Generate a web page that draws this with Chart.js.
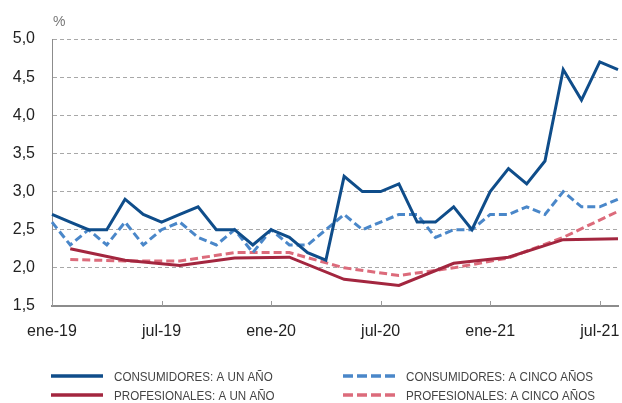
<!DOCTYPE html>
<html>
<head>
<meta charset="utf-8">
<script src="https://cdn.jsdelivr.net/npm/chart.js@4.4.1/dist/chart.umd.min.js"></script>
<style>
  html, body { margin: 0; padding: 0; background: #fff; }
  #wrap { width: 622px; height: 403px; }
</style>
</head>
<body>
<div id="wrap"><canvas id="c"></canvas></div>
<script>
/** DATA **/
const months = ['ene','feb','mar','abr','may','jun','jul','ago','sep','oct','nov','dic'];
const labels = [];
for (let y = 19; y <= 21; y++) {
  for (let m = 0; m < 12; m++) {
    if (y === 21 && m > 7) break;
    labels.push(months[m] + '-' + y);
  }
}

// monthly surveys
const consUnAno = [2.7,2.6,2.5,2.5,2.9,2.7,2.6,2.7,2.8,2.5,2.5,2.3,
                   2.5,2.4,2.2,2.1,3.2,3.0,3.0,3.1,2.6,2.6,2.8,2.5,
                   3.0,3.3,3.1,3.4,4.6,4.2,4.7,4.6];
const consCincoAnos = [2.6,2.3,2.5,2.3,2.6,2.3,2.5,2.6,2.4,2.3,2.5,2.2,
                       2.5,2.3,2.3,2.5,2.7,2.5,2.6,2.7,2.7,2.4,2.5,2.5,
                       2.7,2.7,2.8,2.7,3.0,2.8,2.8,2.9];
// quarterly surveys (feb, may, ago, nov)
const profUnAno = [null,2.25,null,null,2.1,null,null,2.03,null,null,2.13,null,
                   null,2.14,null,null,1.85,null,null,1.77,null,null,2.06,null,
                   null,2.14,null,null,2.37,null,null,2.38];
const profCincoAnos = [null,2.11,null,null,2.09,null,null,2.09,null,null,2.2,null,
                       null,2.2,null,null,2.0,null,null,1.9,null,null,2.0,null,
                       null,2.13,null,null,2.4,null,null,2.74];

const seriesNames = ['CONSUMIDORES: A UN AÑO', 'CONSUMIDORES: A CINCO AÑOS',
                     'PROFESIONALES: A UN AÑO', 'PROFESIONALES: A CINCO AÑOS'];

/** STYLES **/
const colors = ['#0f4d8a', '#4a87c9', '#a3263f', '#dc6b7b'];
const dashed = [false, true, false, true];

const fmt = v => v.toFixed(1).replace('.', ',');

/** EXTRA DRAWING: x ticks, unit, legend **/
const extras = {
  id: 'extras',
  afterDraw(chart) {
    const { ctx, chartArea, scales: { x } } = chart;
    ctx.save();

    // small ticks pointing up from the x axis
    ctx.strokeStyle = '#9a9a9a';
    ctx.lineWidth = 1;
    labels.forEach((l, i) => {
      if (i % 6 !== 0) return;
      const px = Math.round(x.getPixelForValue(i)) + 0.5;
      ctx.beginPath();
      ctx.moveTo(px, chartArea.bottom);
      ctx.lineTo(px, chartArea.bottom - 5);
      ctx.stroke();
    });

    // unit
    ctx.fillStyle = '#777';
    ctx.font = '14px "Liberation Sans", Arial, sans-serif';
    ctx.textBaseline = 'middle';
    ctx.textAlign = 'left';
    ctx.fillText('%', 53, 22);

    // legend, two columns, condensed text
    const colX = [51, 343];
    const rowY = [376, 395];
    const squeeze = 0.86;
    chart.data.datasets.forEach((ds, k) => {
      const cx = colX[k % 2];
      const cy = rowY[Math.floor(k / 2)];
      ctx.beginPath();
      ctx.setLineDash(dashed[k] ? [10, 4] : []);
      ctx.strokeStyle = ds.borderColor;
      ctx.lineWidth = 3.5;
      ctx.moveTo(cx, cy);
      ctx.lineTo(cx + 52, cy);
      ctx.stroke();
      ctx.setLineDash([]);
      ctx.save();
      ctx.translate(cx + 63, cy + 1);
      ctx.scale(squeeze, 1);
      ctx.fillStyle = '#444';
      ctx.font = '13.5px "Liberation Sans", Arial, sans-serif';
      ctx.fillText(ds.label, 0, 0);
      ctx.restore();
    });
    ctx.restore();
  }
};

/** CHART **/
const allSeries = [consUnAno, consCincoAnos, profUnAno, profCincoAnos];

new Chart(document.getElementById('c'), {
  type: 'line',
  data: {
    labels: labels,
    datasets: allSeries.map((s, k) => ({
      label: seriesNames[k],
      data: s,
      borderColor: colors[k],
      backgroundColor: colors[k],
      borderWidth: 3,
      borderDash: dashed[k] ? [8, 4] : [],
      pointRadius: 0,
      tension: 0,
      spanGaps: true,
      fill: false
    }))
  },
  options: {
    responsive: true,
    maintainAspectRatio: false,
    animation: false,
    devicePixelRatio: 1,
    layout: { padding: { top: 39, right: 4, left: 0, bottom: 0 } },
    plugins: { legend: { display: false }, tooltip: { enabled: false } },
    scales: {
      x: {
        afterFit: s => { s.height = 97; s.paddingLeft = 0; s.paddingRight = 0; },
        grid: { display: false },
        border: { color: '#8c8c8c', width: 2 },
        ticks: {
          autoSkip: false,
          maxRotation: 0,
          padding: 8,
          color: '#222',
          font: { family: '"Liberation Sans", Arial, sans-serif', size: 16 },
          callback: (v, i) => (i % 6 === 0 ? labels[i] : null)
        }
      },
      y: {
        min: 1.5,
        max: 5,
        afterFit: s => { s.width = 52; },
        grid: { color: '#a8a8a8', lineWidth: 1, drawTicks: false },
        border: { color: '#8c8c8c', width: 1, dash: [4, 3] },
        ticks: {
          stepSize: 0.5,
          padding: 17,
          color: '#222',
          font: { family: '"Liberation Sans", Arial, sans-serif', size: 16 },
          callback: v => fmt(v)
        }
      }
    }
  },
  plugins: [extras]
});
</script>
</body>
</html>
